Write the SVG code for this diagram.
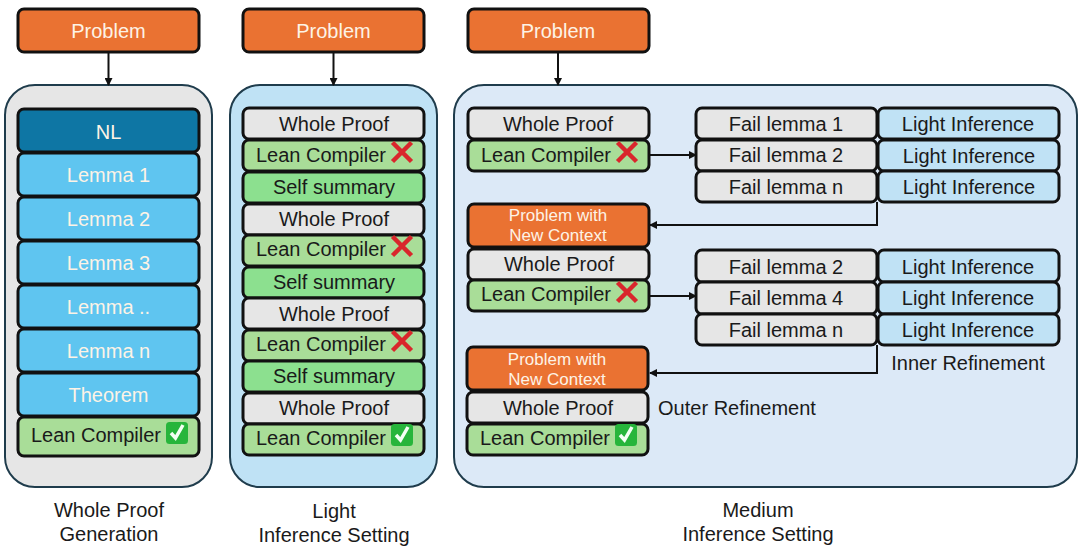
<svg xmlns="http://www.w3.org/2000/svg" width="1080" height="552" viewBox="0 0 1080 552" xmlns:xlink="http://www.w3.org/1999/xlink">
<style>
text{font-family:"Liberation Sans",Arial,sans-serif;font-size:20px;text-anchor:middle;fill:#1a1a1a}
.w{fill:#fdf3e6}
.b{stroke:#111;stroke-width:3}
.o{fill:#ea7232}.g{fill:#e6e6e6}.c{fill:#a9dd98}.s{fill:#8ce08f}.l{fill:#5fc5f0}.n{fill:#0e76a4}.i{fill:#c0e2f5}
.p{stroke:#1f3c4c;stroke-width:2}
.k{fill:none;stroke:#111;stroke-width:2}
.t{font-size:17px}
</style>
<defs>
<marker id="a" markerWidth="8" markerHeight="8" refX="7" refY="4" orient="auto" markerUnits="userSpaceOnUse"><path d="M0 0L8 4L0 8Z" fill="#111"/></marker>
<g id="x"><path d="M-9.500 -9.500L9.500 9.500M9.500 -9.500L-9.500 9.500" stroke="#d9262c" stroke-width="4.500" fill="none"/></g>
<g id="v"><rect x="-11" y="-11" width="22" height="22" rx="3.500" fill="#27b53b"/><path d="M-6 0L-1.500 5L6 -8" stroke="#f4fff4" stroke-width="3.500" fill="none"/></g>
</defs>
<g id="panels">
<rect id="panel-whole" x="5" y="85" width="207" height="402" rx="30" fill="#e6e6e6" class="p"/>
<rect id="panel-light" x="230" y="85" width="207" height="402" rx="30" fill="#bfe2f5" class="p"/>
<rect id="panel-medium" x="454" y="85" width="623" height="402" rx="30" fill="#dce9f7" class="p"/>
</g>
<g id="connectors">
<path class="k" marker-end="url(#a)" d="M108.500 52V85"/>
<path class="k" marker-end="url(#a)" d="M333.500 52V85"/>
<path class="k" marker-end="url(#a)" d="M558 52V85"/>
<path class="k" marker-end="url(#a)" d="M649 155H696"/>
<path class="k" marker-end="url(#a)" d="M877 202V225H650"/>
<path class="k" marker-end="url(#a)" d="M649 296H696"/>
<path class="k" marker-end="url(#a)" d="M877 345V373H650"/>
</g>
<g id="col1">
<g id="p1"><rect class="b o" x="18" y="9" width="181" height="43" rx="6"/><text class="w" x="108.500" y="38">Problem</text></g>
<g id="nl"><rect class="b n" x="18" y="109" width="181" height="43" rx="6"/><text class="w" x="108.500" y="139">NL</text></g>
<g id="l1"><rect class="b l" x="18" y="153" width="181" height="43" rx="6"/><text class="w" x="108.500" y="182">Lemma 1</text></g>
<g id="l2"><rect class="b l" x="18" y="197" width="181" height="43" rx="6"/><text class="w" x="108.500" y="226">Lemma 2</text></g>
<g id="l3"><rect class="b l" x="18" y="241" width="181" height="43" rx="6"/><text class="w" x="108.500" y="270">Lemma 3</text></g>
<g id="l4"><rect class="b l" x="18" y="285" width="181" height="43" rx="6"/><text class="w" x="108.500" y="314">Lemma ..</text></g>
<g id="l5"><rect class="b l" x="18" y="329" width="181" height="43" rx="6"/><text class="w" x="108.500" y="358">Lemma n</text></g>
<g id="th"><rect class="b l" x="18" y="373" width="181" height="43" rx="6"/><text class="w" x="108.500" y="402">Theorem</text></g>
<g id="lc1"><rect class="b c" x="18" y="417" width="181" height="39" rx="6"/><text x="96" y="442">Lean Compiler</text><use xlink:href="#v" href="#v" x="177" y="433"/></g>
</g>
<g id="col2">
<g id="p2"><rect class="b o" x="243" y="9" width="181" height="43" rx="6"/><text class="w" x="333.500" y="38">Problem</text></g>
<g id="w1"><rect class="b g" x="243" y="108" width="181" height="31" rx="6"/><text x="334" y="131">Whole Proof</text></g>
<g id="c1"><rect class="b c" x="243" y="140" width="181" height="31" rx="6"/><text x="321" y="162">Lean Compiler</text><use xlink:href="#x" href="#x" x="402" y="152"/></g>
<g id="s1"><rect class="b s" x="243" y="172" width="181" height="31" rx="6"/><text x="334" y="194">Self summary</text></g>
<g id="w2"><rect class="b g" x="243" y="204" width="181" height="31" rx="6"/><text x="334" y="226">Whole Proof</text></g>
<g id="c2"><rect class="b c" x="243" y="235" width="181" height="31" rx="6"/><text x="321" y="256">Lean Compiler</text><use xlink:href="#x" href="#x" x="402" y="246"/></g>
<g id="s2"><rect class="b s" x="243" y="267" width="181" height="31" rx="6"/><text x="334" y="289">Self summary</text></g>
<g id="w3"><rect class="b g" x="243" y="298" width="181" height="31" rx="6"/><text x="334" y="321">Whole Proof</text></g>
<g id="c3"><rect class="b c" x="243" y="330" width="181" height="31" rx="6"/><text x="321" y="351">Lean Compiler</text><use xlink:href="#x" href="#x" x="402" y="341"/></g>
<g id="s3"><rect class="b s" x="243" y="361" width="181" height="31" rx="6"/><text x="334" y="383">Self summary</text></g>
<g id="w4"><rect class="b g" x="243" y="393" width="181" height="31" rx="6"/><text x="334" y="415">Whole Proof</text></g>
<g id="c4"><rect class="b c" x="243" y="424" width="181" height="31" rx="6"/><text x="321" y="445">Lean Compiler</text><use xlink:href="#v" href="#v" x="402" y="435"/></g>
</g>
<g id="col3">
<g id="p3"><rect class="b o" x="468" y="9" width="181" height="43" rx="6"/><text class="w" x="558" y="38">Problem</text></g>
<g id="mw1"><rect class="b g" x="468" y="108" width="181" height="31" rx="6"/><text x="558" y="131">Whole Proof</text></g>
<g id="mc1"><rect class="b c" x="468" y="140" width="181" height="31" rx="6"/><text x="546" y="162">Lean Compiler</text><use xlink:href="#x" href="#x" x="627" y="152"/></g>
<g id="mp2"><rect class="b o" x="468" y="204" width="181" height="43" rx="6"/><text class="w t" x="558" y="221">Problem with</text><text class="w t" x="558" y="241">New Context</text></g>
<g id="mw2"><rect class="b g" x="468" y="249" width="181" height="31" rx="6"/><text x="559" y="271">Whole Proof</text></g>
<g id="mc2"><rect class="b c" x="468" y="280" width="181" height="31" rx="6"/><text x="546" y="301">Lean Compiler</text><use xlink:href="#x" href="#x" x="627" y="292"/></g>
<g id="mp3"><rect class="b o" x="467" y="347" width="181" height="43" rx="6"/><text class="w t" x="557" y="365">Problem with</text><text class="w t" x="557" y="385">New Context</text></g>
<g id="mw3"><rect class="b g" x="467" y="392" width="181" height="31" rx="6"/><text x="558" y="415">Whole Proof</text></g>
<g id="mc3"><rect class="b c" x="467" y="424" width="181" height="31" rx="6"/><text x="545" y="445">Lean Compiler</text><use xlink:href="#v" href="#v" x="626" y="435"/></g>
<g id="f1"><rect class="b g" x="696" y="108" width="181" height="31" rx="6"/><text x="786" y="131">Fail lemma 1</text></g>
<g id="f2"><rect class="b g" x="696" y="140" width="181" height="31" rx="6"/><text x="786" y="162">Fail lemma 2</text></g>
<g id="f3"><rect class="b g" x="696" y="171" width="181" height="31" rx="6"/><text x="786" y="194">Fail lemma n</text></g>
<g id="i1"><rect class="b i" x="878" y="108" width="181" height="31" rx="6"/><text x="968" y="131">Light Inference</text></g>
<g id="i2"><rect class="b i" x="878" y="140" width="181" height="31" rx="6"/><text x="969" y="163">Light Inference</text></g>
<g id="i3"><rect class="b i" x="878" y="171" width="181" height="31" rx="6"/><text x="969" y="194">Light Inference</text></g>
<g id="f4"><rect class="b g" x="696" y="250" width="181" height="32" rx="6"/><text x="786" y="274">Fail lemma 2</text></g>
<g id="f5"><rect class="b g" x="696" y="282" width="181" height="32" rx="6"/><text x="786" y="305">Fail lemma 4</text></g>
<g id="f6"><rect class="b g" x="696" y="314" width="181" height="31" rx="6"/><text x="786" y="337">Fail lemma n</text></g>
<g id="i4"><rect class="b i" x="878" y="250" width="181" height="32" rx="6"/><text x="968" y="274">Light Inference</text></g>
<g id="i5"><rect class="b i" x="878" y="282" width="181" height="32" rx="6"/><text x="968" y="305">Light Inference</text></g>
<g id="i6"><rect class="b i" x="878" y="314" width="181" height="31" rx="6"/><text x="968" y="337">Light Inference</text></g>
</g>
<g id="labels">
<text x="968" y="370">Inner Refinement</text>
<text x="737" y="415">Outer Refinement</text>
<text x="109" y="517">Whole Proof</text>
<text x="109" y="541">Generation</text>
<text x="334" y="518">Light</text>
<text x="334" y="542">Inference Setting</text>
<text x="758" y="517">Medium</text>
<text x="758" y="541">Inference Setting</text>
</g>
</svg>
